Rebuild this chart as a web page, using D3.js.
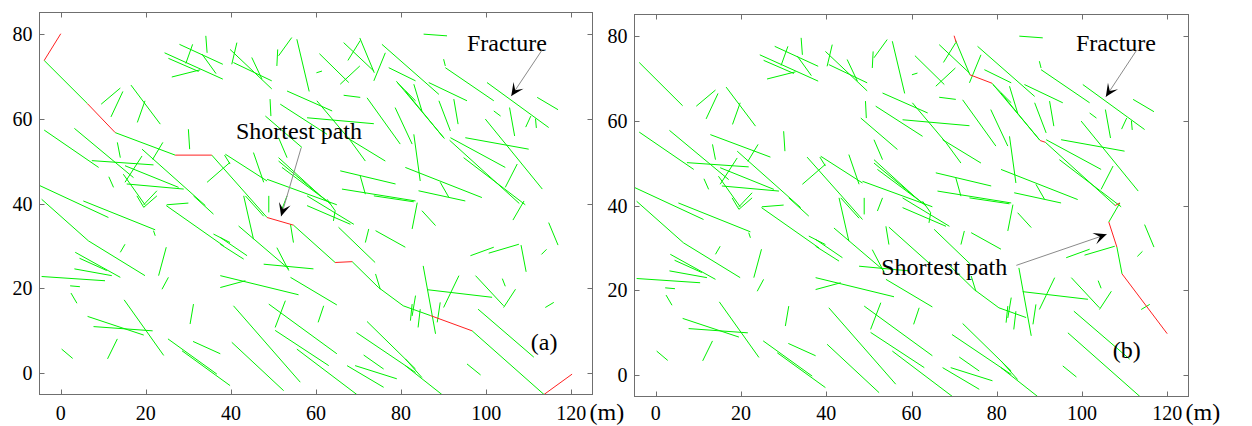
<!DOCTYPE html>
<html>
<head>
<meta charset="utf-8">
<script src="https://d3js.org/d3.v7.min.js"></script>
<style>
  body { margin: 0; background: #fff; }
  text { font-family: "Liberation Serif", "Times New Roman", serif; fill: #000; }
</style>
</head>
<body>
<div id="chart"></div>
<script>
var xTicks = [0, 20, 40, 60, 80, 100, 120];
var yTicks = [0, 20, 40, 60, 80];

// fracture segments [x1, y1, x2, y2] in metres (same network in both panels)
var fractures = [
  [-3.9,73.7,6.3,63.5], [12.8,56.7,26.9,51.4], [35.5,51.4,48.5,36.7], [54.7,34.9,64.5,26.1],
  [68.5,26.3,74.7,20.2], [74.7,20.2,80.5,15.9], [80.5,15.9,86.9,13.6], [96.7,10.0,113.6,-5.0],
  [70.3,79.0,73.7,70.8], [78.9,68.8,90.2,55.3], [91.4,54.9,107.8,40.0],
  [27.9,77.5,38.1,72.8], [24.4,75.5,38.1,69.3], [25.3,74.2,32.4,71.1], [31.0,77.5,29.4,73.0],
  [34.1,79.5,34.4,75.5], [33.2,75.2,36.5,70.6], [26.1,69.8,32.8,71.5], [9.5,63.4,14.0,67.2],
  [14.6,66.4,11.8,60.4], [16.5,67.9,23.4,58.7], [19.8,64.2,18.0,59.1], [-3.9,57.3,8.9,48.5],
  [3.2,57.7,17.1,46.1], [30.0,57.5,30.3,52.8], [13.3,54.4,14.0,50.8], [7.3,50.1,21.8,49.1],
  [19.1,51.2,15.1,45.0], [19.1,52.8,34.0,39.5], [24.0,54.4,21.6,50.4], [11.3,46.3,12.4,43.8],
  [14.7,46.9,19.8,39.7], [15.5,44.6,28.9,43.4], [15.1,48.9,27.7,43.8], [-4.9,44.2,11.2,36.7],
  [22.6,43.0,19.5,39.7], [34.4,45.0,39.8,49.7], [38.5,51.4,39.8,49.3], [24.9,39.7,30.0,40.1],
  [39.8,76.3,49.6,67.0], [40.6,73.2,49.6,68.9], [41.4,77.9,40.2,72.8], [44.9,74.4,47.3,69.3],
  [54.3,79.1,51.2,74.8], [51.0,76.3,50.8,72.4], [55.5,78.7,58.4,66.4], [60.1,70.8,61.4,71.2],
  [60.8,75.3,67.7,68.5], [66.5,77.9,73.6,71.2], [70.4,78.4,67.5,73.7], [70.3,72.4,65.7,68.1],
  [75.5,77.5,88.9,65.7], [76.3,75.5,73.6,68.9], [77.1,72.0,83.4,68.9], [79.1,68.5,83.4,64.2],
  [53.2,66.5,63.8,61.8], [49.2,64.6,49.4,60.6], [51.6,63.4,62.6,56.3], [57.9,60.2,73.6,58.8],
  [60.2,64.2,68.1,54.8], [66.5,65.5,70.4,65.0], [72.0,64.9,79.8,54.0], [78.6,62.6,82.6,54.0],
  [48.1,60.6,56.7,53.2], [67.3,55.5,76.3,50.0], [68.1,54.8,71.6,50.0], [51.2,55.5,53.2,50.8],
  [45.3,52.0,47.7,45.0], [38.7,51.6,48.5,45.3], [51.2,50.8,60.6,42.2], [51.2,50.0,63.4,39.9],
  [52.0,48.5,62.6,40.6], [65.7,47.7,78.7,44.6], [70.4,46.5,71.6,42.2], [66.1,43.4,83.4,40.6],
  [48.5,45.7,64.9,39.7],
  [85.3,79.9,90.8,79.5], [90.4,72.0,101.8,64.2], [100.2,68.5,114.7,57.9], [112.0,65.0,116.9,62.1],
  [90.0,74.0,90.4,72.4], [83.0,68.1,84.9,61.8], [86.5,68.5,95.5,64.2], [88.9,64.2,91.6,57.1],
  [92.4,64.6,93.4,58.7], [81.0,66.5,90.0,55.5], [99.8,59.9,113.2,43.4], [95.1,55.5,110.0,52.8],
  [105.5,62.6,106.7,55.9], [101.8,61.8,103.4,60.6], [110.5,60.6,109.3,58.0], [111.6,60.0,111.8,57.8],
  [91.6,55.5,104.5,48.5], [94.7,50.8,109.2,39.7], [107.3,49.3,104.5,43.8], [81.0,48.5,99.0,41.4],
  [84.1,43.0,95.1,40.6], [83.0,56.3,84.5,45.3], [89.2,45.0,91.2,41.5],
  [-4.5,41.0,6.5,31.2], [6.5,31.2,19.8,23.0], [5.3,40.6,22.2,33.8], [21.8,33.6,22.2,32.4],
  [14.0,28.5,15.1,30.4], [3.4,28.5,14.0,22.6], [4.4,27.1,10.8,24.2], [3.2,24.6,12.0,23.0],
  [-4.5,22.8,10.4,21.8], [2.2,20.6,4.5,20.4], [2.4,18.9,3.8,16.5], [24.8,29.7,23.0,23.0],
  [25.3,22.6,23.8,19.8], [14.9,17.3,24.2,4.2], [6.3,13.4,19.5,9.0], [7.7,11.0,21.6,10.0],
  [13.3,8.1,11.0,3.4], [0.2,5.7,2.8,3.5], [31.2,16.3,30.4,11.6], [25.2,8.1,36.7,-0.2],
  [28.5,5.3,39.8,-2.9], [31.1,7.5,37.5,4.6], [31.2,41.8,35.9,37.5], [24.8,39.5,38.3,30.0],
  [17.9,41.8,19.5,39.1], [19.5,39.1,22.6,41.8], [35.9,32.8,39.8,30.8],
  [43.0,41.8,45.3,31.6], [43.4,41.8,47.7,37.0], [48.9,41.8,48.9,37.9], [53.2,41.8,52.0,38.7],
  [54.0,35.1,54.7,30.8], [57.9,41.8,68.9,35.1], [57.9,39.5,68.1,35.1], [62.6,41.0,64.5,38.3],
  [64.5,38.3,64.1,35.9], [37.5,32.0,43.8,27.7], [37.5,30.4,43.0,26.9], [41.8,34.7,53.6,24.6],
  [50.8,29.6,53.6,24.2], [47.7,25.7,59.4,24.6], [37.5,23.0,55.9,18.5], [37.5,20.2,43.4,21.8],
  [54.0,22.6,64.9,16.1], [52.8,17.1,50.4,10.8], [48.9,16.3,64.9,4.6], [61.8,15.9,60.5,12.0],
  [40.6,15.9,56.3,-2.1], [40.2,7.3,52.4,-4.1], [50.4,10.1,63.0,1.8], [55.5,5.7,69.6,-5.0],
  [65.3,34.4,73.9,26.1], [74.0,23.4,75.1,19.8], [74.0,33.6,81.0,29.7], [72.4,34.0,71.6,30.8],
  [72.0,12.2,83.4,1.0], [69.5,9.6,83.4,0.2], [71.2,4.3,75.9,1.0], [69.2,1.8,79.0,-1.3],
  [67.3,1.8,75.9,-3.3], [73.6,41.8,83.0,40.4], [83.4,18.3,82.6,13.5],
  [83.8,40.2,82.6,34.0], [84.9,38.3,88.1,34.8], [108.9,40.6,106.3,36.1], [114.7,35.5,116.9,30.2],
  [96.3,27.7,101.8,29.7], [100.6,28.3,107.7,30.4], [108.2,30.2,109.4,23.9], [113.0,28.0,114.2,29.2],
  [85.2,25.3,88.1,9.3], [86.1,19.7,101.4,17.9], [93.6,23.0,90.0,15.5], [97.5,23.0,104.1,15.9],
  [106.9,19.8,104.1,15.5], [103.8,22.3,104.5,20.5], [89.2,16.7,88.5,12.0], [82.6,16.3,82.2,12.4],
  [84.5,15.1,84.0,10.8], [98.1,15.1,111.2,3.8], [95.5,2.2,98.7,-0.4], [113.9,15.5,115.9,16.7],
  [81.0,3.4,84.9,-1.0], [81.0,1.8,89.6,-5.0]
];

// red links of the shortest path in each panel
var linksA = [
  [0,80,-3.9,73.7], [6.3,63.5,12.8,56.7], [26.9,51.4,35.5,51.4], [48.5,36.7,54.7,34.9],
  [64.5,26.1,68.5,26.3], [86.9,13.6,96.7,10.0], [113.6,-5.0,120.2,-0.2]
];
var linksB = [
  [70.0,80.0,70.5,78.4], [73.7,70.8,78.9,68.8], [90.2,55.3,91.4,54.9], [107.8,40.0,108.9,40.6],
  [106.3,36.1,108.2,30.2], [109.4,23.9,120.0,9.8]
];

var panels = [
  { left: 39.5, right: 592.5, top: 12.5, bottom: 394.5, links: linksA, tag: "(a)", tagAt: [110.5, 5.4],
    notes: [
      { text: "Fracture", at: [95.5, 75.9], from: [113.1, 76.1], to: [105.9, 65.3] },
      { text: "Shortest path", at: [41.2, 55.1], from: [56.5, 53.1], to: [51.8, 37.0] }
    ] },
  { left: 634.5, right: 1188.5, top: 14.5, bottom: 396.5, links: linksB, tag: "(b)", tagAt: [107.2, 4.1],
    notes: [
      { text: "Fracture", at: [98.6, 76.4], from: [112.9, 76.7], to: [105.6, 65.6] },
      { text: "Shortest path", at: [52.9, 23.6], from: [84.6, 25.9], to: [105.8, 33.2] }
    ] }
];

var svg = d3.select("#chart").append("svg")
  .attr("width", 1252)
  .attr("height", 426);

var axisColor = "#6f6f6f";

panels.forEach(function(p) {
  var x = d3.scaleLinear().domain([-5, 125]).range([p.left, p.right]);
  var y = d3.scaleLinear().domain([-5, 85]).range([p.bottom, p.top]);
  var g = svg.append("g");

  // fractures
  g.selectAll(".frac")
    .data(fractures)
    .enter().append("line")
    .attr("x1", function(d) { return x(d[0]); })
    .attr("y1", function(d) { return y(d[1]); })
    .attr("x2", function(d) { return x(d[2]); })
    .attr("y2", function(d) { return y(d[3]); })
    .attr("stroke", "#00f000")
    .attr("stroke-width", 1);

  // shortest path links
  g.selectAll(".link")
    .data(p.links)
    .enter().append("line")
    .attr("x1", function(d) { return x(d[0]); })
    .attr("y1", function(d) { return y(d[1]); })
    .attr("x2", function(d) { return x(d[2]); })
    .attr("y2", function(d) { return y(d[3]); })
    .attr("stroke", "#ff2020")
    .attr("stroke-width", 1);

  // frame
  g.append("rect")
    .attr("x", p.left).attr("y", p.top)
    .attr("width", p.right - p.left).attr("height", p.bottom - p.top)
    .attr("fill", "none").attr("stroke", axisColor).attr("stroke-width", 1);

  // inner ticks on all four sides
  var tl = 5;
  xTicks.forEach(function(t) {
    var px = Math.round(x(t)) + 0.5;
    g.append("line").attr("x1", px).attr("x2", px).attr("y1", p.bottom).attr("y2", p.bottom - tl).attr("stroke", axisColor);
    g.append("line").attr("x1", px).attr("x2", px).attr("y1", p.top).attr("y2", p.top + tl).attr("stroke", axisColor);
    g.append("text").attr("x", x(t)).attr("y", 420)
      .attr("text-anchor", "middle").style("font-size", "20px").text(t);
  });
  yTicks.forEach(function(t) {
    var py = Math.round(y(t)) + 0.5;
    g.append("line").attr("y1", py).attr("y2", py).attr("x1", p.left).attr("x2", p.left + tl).attr("stroke", axisColor);
    g.append("line").attr("y1", py).attr("y2", py).attr("x1", p.right).attr("x2", p.right - tl).attr("stroke", axisColor);
    g.append("text").attr("x", p.left - 7).attr("y", y(t))
      .attr("text-anchor", "end").attr("dominant-baseline", "central")
      .style("font-size", "20px").text(t);
  });

  g.append("text").attr("x", p.right - 3).attr("y", 420)
    .style("font-size", "24px").text("(m)");

  g.append("text").attr("x", x(p.tagAt[0])).attr("y", y(p.tagAt[1]))
    .style("font-size", "24px").text(p.tag);

  // annotations with arrows
  p.notes.forEach(function(n) {
    g.append("text").attr("x", x(n.at[0])).attr("y", y(n.at[1]))
      .style("font-size", "24px").text(n.text);
    var x0 = x(n.from[0]), y0 = y(n.from[1]), x1 = x(n.to[0]), y1 = y(n.to[1]);
    g.append("line").attr("x1", x0).attr("y1", y0).attr("x2", x1).attr("y2", y1)
      .attr("stroke", "#8a8a8a").attr("stroke-width", 1);
    var len = Math.sqrt((x1 - x0) * (x1 - x0) + (y1 - y0) * (y1 - y0));
    var ux = (x1 - x0) / len, uy = (y1 - y0) / len;
    var nx = -uy, ny = ux;
    var L = 13, W = 6;
    var pts = [
      [x1, y1],
      [x1 - L * ux + W * nx, y1 - L * uy + W * ny],
      [x1 - 0.55 * L * ux, y1 - 0.55 * L * uy],
      [x1 - L * ux - W * nx, y1 - L * uy - W * ny]
    ];
    g.append("path").attr("d", d3.line()(pts) + "Z").attr("fill", "#000");
  });
});
</script>
</body>
</html>
